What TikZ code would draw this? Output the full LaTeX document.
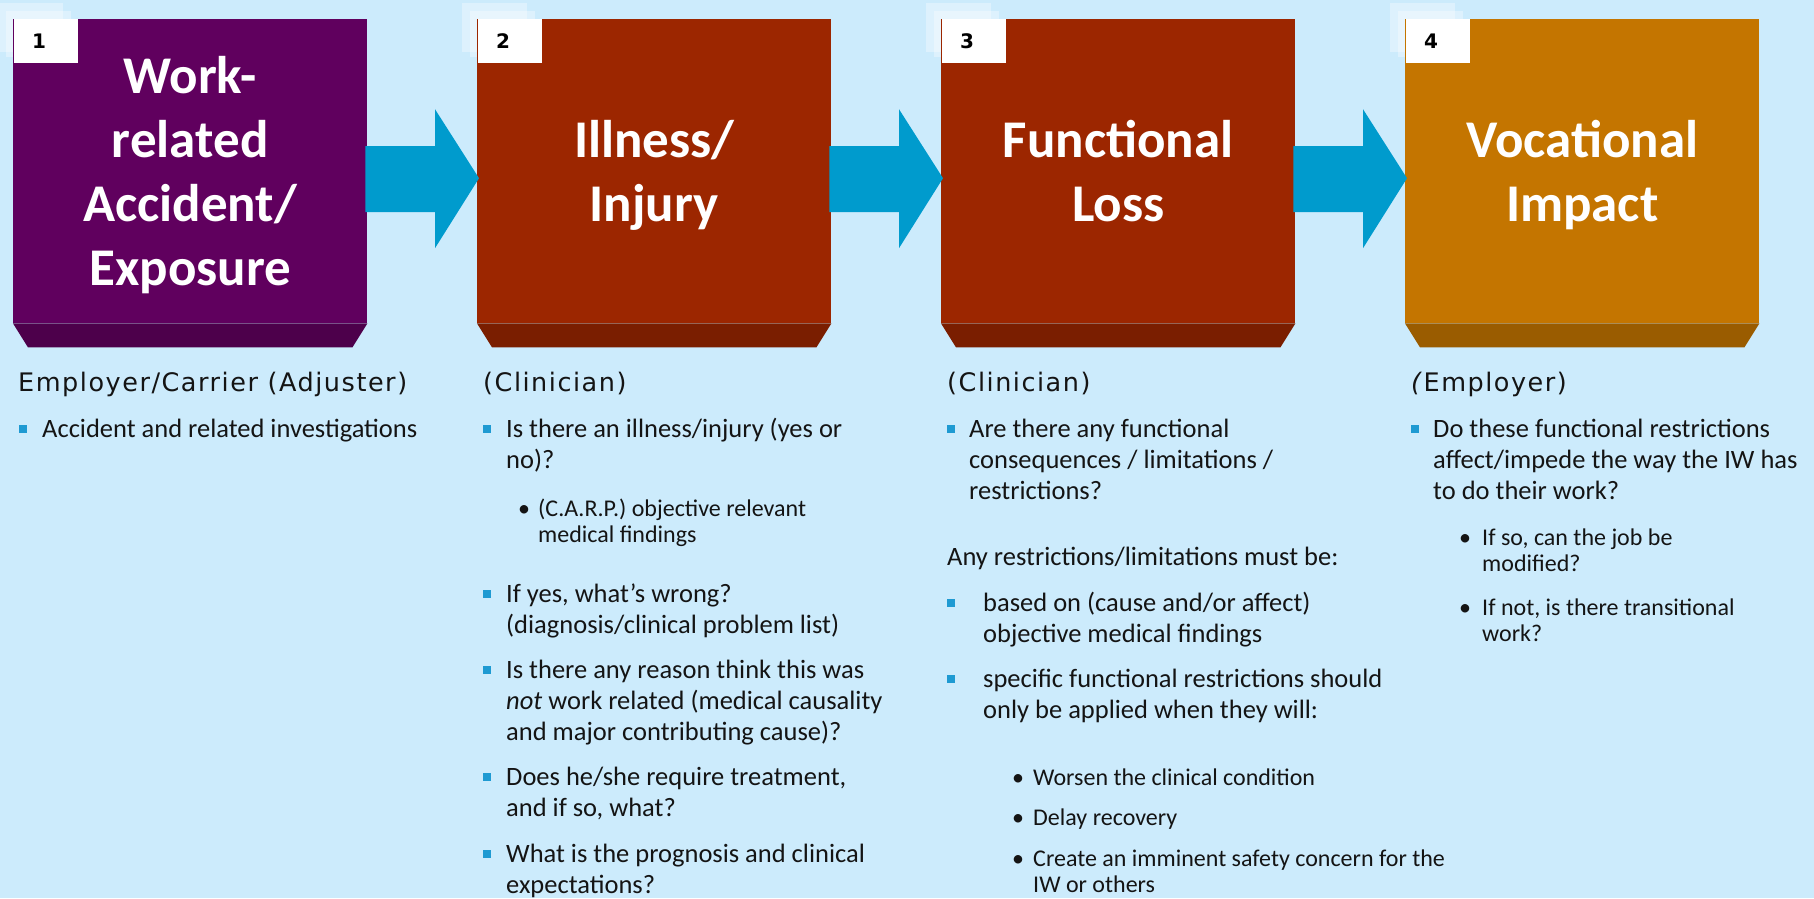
\documentclass[tikz,border=0pt]{standalone}
\usepackage{fontspec}
\setmainfont{Carlito}
\newfontfamily\hdfont[LetterSpace=6]{DejaVu Sans}
\newfontfamily\numfont{DejaVu Sans}
\usetikzlibrary{calc}
\definecolor{bgc}{HTML}{CCEBFC}
\definecolor{purp}{HTML}{60005E}
\definecolor{purpd}{HTML}{4D004B}
\definecolor{redc}{HTML}{9C2600}
\definecolor{redd}{HTML}{7A1E00}
\definecolor{orng}{HTML}{C47500}
\definecolor{orngd}{HTML}{9A5C00}
\definecolor{arrc}{HTML}{009BCD}
\definecolor{bulc}{HTML}{1E9AD2}
\definecolor{txt}{HTML}{141414}
\newcommand\bodyst{\rule[-8pt]{0pt}{31pt}}
\newcommand\mysubst{\rule[-6pt]{0pt}{26.5pt}}
\newcommand\ttlst{\rule[-14pt]{0pt}{60pt}}
\newcommand\Item[5]{\fill[bulc] (#2,#4) ++(0,-12) rectangle ++(8,8); \node[body] (#1) at (#3,#4) {\bodyst #5};}
\newcommand\Sub[5]{\node[subb] (#1b) at (#2,#4) {•}; \node[sub] (#1) at (#3,#4) {\mysubst #5};}
\begin{document}
\begin{tikzpicture}[x=1pt,y=-1pt,
  box/.style={anchor=north west, minimum width=354pt, minimum height=304pt, inner sep=0pt, draw=none},
  ttl/.style={font=\fontsize{53}{64}\selectfont\bfseries, text=white, align=center, inner sep=0pt, anchor=center},
  numbox/.style={anchor=north west, fill=white, minimum width=64pt, minimum height=44pt, inner sep=0pt},
  numtxt/.style={font=\numfont\bfseries\fontsize{20}{24}\selectfont, text=black, inner sep=0pt, anchor=center},
  hdr/.style={font=\hdfont\fontsize{25.5}{30}\selectfont, text=txt, anchor=base west, inner sep=0pt},
  body/.style={font=\fontsize{26.5}{31}\selectfont, text=txt, align=left, anchor=north west, inner sep=0pt, yshift=23pt},
  sub/.style={font=\fontsize{24}{26.5}\selectfont, text=txt, align=left, anchor=north west, inner sep=0pt, yshift=20.5pt},
  subb/.style={font=\fontsize{24}{26.5}\selectfont, text=txt, anchor=base west, inner sep=0pt},
  pale/.style={fill=white, opacity=0.35}]
\fill[bgc] (0,0) rectangle (1814,898);
\path[use as bounding box] (0,0) rectangle (1814,898);
% pale tabs behind the number boxes
\foreach \L in {13,477,941,1405}{
  \fill[pale] (\L-15,3) rectangle (\L+50,52);
  \fill[pale] (\L-7,11) rectangle (\L+58,57);
}
% boxes
\node[box, fill=purp] (b1) at (13,19) {};
\node[box, fill=redc] (b2) at (477,19) {};
\node[box, fill=redc] (b3) at (941,19) {};
\node[box, fill=orng] (b4) at (1405,19) {};
\foreach \b/\c in {b1/purpd,b2/redd,b3/redd,b4/orngd}{
  \fill[\c] (\b.south west) -- (\b.south east) -- ($(\b.south east)+(-15,24)$) -- ($(\b.south west)+(15,24)$) -- cycle;
}
% titles
\node[ttl] (t1) at ($(b1.center)+(0,2)$) {\ttlst Work-\\\ttlst related\\\ttlst Accident/\\\ttlst Exposure};
\node[ttl] (t2) at ($(b2.center)+(0,2)$) {\ttlst Illness/\\\ttlst Injury};
\node[ttl] (t3) at ($(b3.center)+(0,2)$) {\ttlst Functional\\\ttlst Loss};
\node[ttl] (t4) at ($(b4.center)+(0,2)$) {\ttlst Vocational\\\ttlst Impact};
% number tabs
\foreach \b/\n in {b1/1,b2/2,b3/3,b4/4}{
  \node[numbox] (n\n) at ($(\b.north west)+(1,0)$) {};
  \node[numtxt] (k\n) at ($(\b.north west)+(26,22)$) {\n};
}
% arrows
\foreach \a/\b in {b1/b2,b2/b3,b3/b4}{
  \fill[arrc] ($(\a.east)+(-2,-25)$) -- ($(\b.west)+(-42,-25)$) -- ($(\b.west)+(-42,-62)$)
    -- ($(\b.west)+(2,7)$) -- ($(\b.west)+(-42,77)$) -- ($(\b.west)+(-42,41)$)
    -- ($(\a.east)+(-2,41)$) -- cycle;
}
% column 1
\node[hdr] (h1) at (18,391) {Employer/Carrier (Adjuster)};
\Item{i11}{19}{42}{437}{Accident and related investigations}
% column 2
\node[hdr] (h2) at (483,391) {(Clinician)};
\Item{i21}{483}{506}{437}{Is there an illness/injury (yes or\\no)?}
\Sub{s21}{518}{538}{516}{(C.A.R.P.) objective relevant\\medical findings}
\Item{i22}{483}{506}{602}{If yes, what’s wrong?\\(diagnosis/clinical problem list)}
\Item{i23}{483}{506}{678}{Is there any reason think this was\\\textit{not} work related (medical causality\\and major contributing cause)?}
\Item{i24}{483}{506}{785}{Does he/she require treatment,\\and if so, what?}
\Item{i25}{483}{506}{862}{What is the prognosis and clinical\\expectations?}
% column 3
\node[hdr] (h3) at (947,391) {(Clinician)};
\Item{i31}{947}{969}{437}{Are there any functional\\consequences / limitations /\\restrictions?}
\node[body] (p31) at (947,565) {\bodyst Any restrictions/limitations must be:};
\Item{i32}{947}{983}{611}{based on (cause and/or affect)\\objective medical findings}
\Item{i33}{947}{983}{687}{specific functional restrictions should\\only be applied when they will:}
\Sub{s31}{1012}{1033}{785}{Worsen the clinical condition}
\Sub{s32}{1012}{1033}{825}{Delay recovery}
\Sub{s33}{1012}{1033}{866}{Create an imminent safety concern for the\\IW or others}
% column 4
\node[hdr] (h4) at (1411,391) {\textit{(}Employer)};
\Item{i41}{1411}{1433}{437}{Do these functional restrictions\\affect/impede the way the IW has\\to do their work?}
\Sub{s41}{1459}{1482}{545}{If so, can the job be\\modified?}
\Sub{s42}{1459}{1482}{615}{If not, is there transitional\\work?}
\end{tikzpicture}
\end{document}
